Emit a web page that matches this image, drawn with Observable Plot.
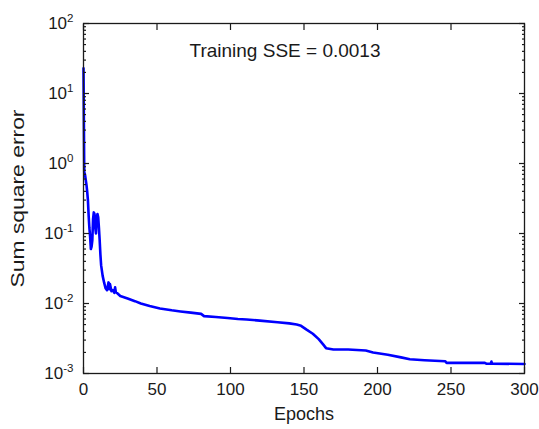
<!DOCTYPE html>
<html><head><meta charset="utf-8">
<script src="https://cdn.jsdelivr.net/npm/d3@7"></script>
<script src="https://cdn.jsdelivr.net/npm/@observablehq/plot@0.6"></script>
<style>body{margin:0;background:#fff;} svg{display:block}</style>
</head><body><div id="chart"></div>
<script>
const epochs = [0, 0.5, 1, 2, 2.5, 3, 3.5, 4, 4.5, 5, 5.5, 6, 6.5, 7, 7.5, 8, 8.5, 9, 9.5, 10, 10.5, 11, 11.5, 12, 13, 14, 15, 16, 17, 17.5, 18, 19, 20, 21, 21.5, 22, 23, 25, 30, 35, 39, 45, 52, 60, 66, 73, 80, 82, 90, 98, 105, 111, 120, 132, 140, 145, 148, 152, 156, 160, 163, 165, 170, 180, 192, 197, 207, 216, 222, 232, 246, 247, 273, 274, 277, 277.5, 278, 300];
const sse = [23, 0.75, 0.7, 0.5, 0.4, 0.3, 0.18, 0.12, 0.09, 0.06, 0.065, 0.08, 0.16, 0.2, 0.19, 0.12, 0.1, 0.17, 0.19, 0.17, 0.12, 0.08, 0.05, 0.035, 0.025, 0.02, 0.0165, 0.0155, 0.02, 0.016, 0.019, 0.015, 0.0155, 0.0142, 0.017, 0.0145, 0.014, 0.0128, 0.0118, 0.0108, 0.0100, 0.0092, 0.0085, 0.0080, 0.0077, 0.0074, 0.0071, 0.0066, 0.0064, 0.0062, 0.0060, 0.0059, 0.0057, 0.0054, 0.0052, 0.0050, 0.0048, 0.0042, 0.0037, 0.0031, 0.0026, 0.0023, 0.0022, 0.0022, 0.00213, 0.0020, 0.00185, 0.0017, 0.0016, 0.00155, 0.0015, 0.00142, 0.00142, 0.00138, 0.00138, 0.00148, 0.00138, 0.00137];
const xTicks = [0, 50, 100, 150, 200, 250, 300];
const yMajor = [1e-3, 1e-2, 1e-1, 1e0, 1e1, 1e2];
const yMinor = yMajor.slice(0, -1).flatMap(d => [2,3,4,5,6,7,8,9].map(m => m * d));
const xLabel = "Epochs";
const yLabel = "Sum square error";
const annotation = "Training SSE = 0.0013";

const data = epochs.map((e, i) => ({epoch: e, sse: sse[i]}));
const fmt = d => "10^" + Math.round(Math.log10(d));
const ink = "#1a1a1a";
const none = () => "";

const chart = Plot.plot({
  width: 539, height: 429,
  marginLeft: 83, marginRight: 15, marginTop: 23, marginBottom: 56,
  style: {fontFamily: "'Liberation Sans', Arial, sans-serif", fontSize: "17px", background: "#fff", color: ink},
  x: {domain: [0, 300]},
  y: {type: "log", domain: [1e-3, 1e2]},
  marks: [
    Plot.line(data, {x: "epoch", y: "sse", stroke: "#0000ff", strokeWidth: 2.6}),
    Plot.frame({stroke: ink, strokeWidth: 1.3}),
    Plot.axisX({anchor: "bottom", ticks: xTicks, tickSize: 6, insetBottom: 6, strokeWidth: 1.2, tickPadding: 9, fontSize: 17, label: xLabel, labelAnchor: "center", labelOffset: 46, labelArrow: "none"}),
    Plot.axisX({anchor: "top", ticks: xTicks, tickSize: 6, insetTop: 6, strokeWidth: 1.2, tickFormat: none, label: null}),
    Plot.axisY({anchor: "left", ticks: yMajor, tickSize: 6, insetLeft: 6, strokeWidth: 1.2, tickPadding: 10, fontSize: 17, tickFormat: fmt, label: yLabel, labelAnchor: "center", labelOffset: 72, labelArrow: "none"}),
    Plot.axisY({anchor: "left", ticks: yMinor, tickSize: 3, insetLeft: 3, strokeWidth: 1.2, tickFormat: none, label: null}),
    Plot.axisY({anchor: "right", ticks: yMajor, tickSize: 6, insetRight: 6, strokeWidth: 1.2, tickFormat: none, label: null}),
    Plot.axisY({anchor: "right", ticks: yMinor, tickSize: 3, insetRight: 3, strokeWidth: 1.2, tickFormat: none, label: null}),
    Plot.text([annotation], {frameAnchor: "top", dx: -19, dy: 27, fontSize: 19, lineAnchor: "middle", fill: ink})
  ]
});

d3.select(chart).selectAll("text").each(function() {
  const t = this.textContent;
  if (t && t.startsWith("10^")) {
    const e = t.slice(3);
    const sel = d3.select(this);
    sel.text("10");
    sel.append("tspan").attr("dy", "-0.6em").attr("font-size", "0.68em").text(e);
  } else if (t === xLabel) {
    d3.select(this).attr("font-size", 18);
  } else if (t === yLabel) {
    d3.select(this).attr("font-size", 18).attr("textLength", 178).attr("lengthAdjust", "spacingAndGlyphs");
  }
});

document.getElementById("chart").append(chart);
</script>
</body></html>
